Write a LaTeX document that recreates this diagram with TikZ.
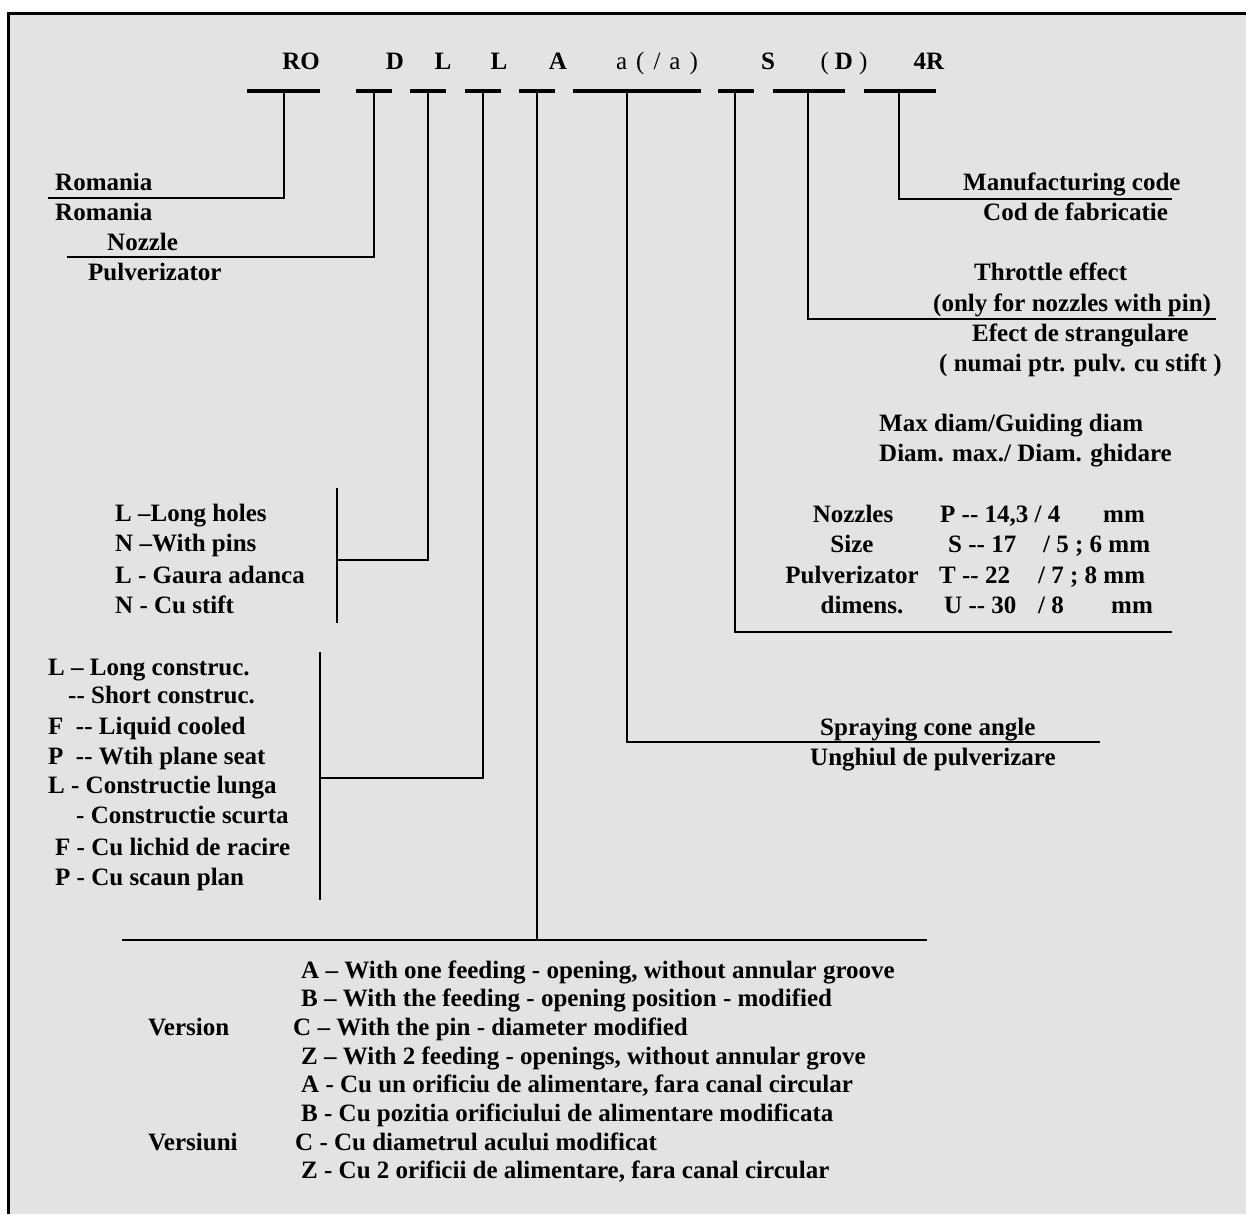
\documentclass[tikz,border=0pt]{standalone}
\usepackage{fontspec}
\setmainfont{Liberation Serif}[Ligatures=TeXOff]
\definecolor{bg}{RGB}{227,227,227}
\begin{document}
\begin{tikzpicture}[x=1pt,y=-1pt,
  lbl/.style={inner sep=0pt,anchor=base west,font=\fontsize{25}{30}\selectfont\bfseries},
  lblc/.style={lbl,anchor=base},
  codereg/.style={lblc,font=\fontsize{25}{30}\selectfont},
  ln/.style={line width=2.4pt},
  barln/.style={line width=3.4pt}]
\useasboundingbox (0,0) rectangle (1246,1214);
\fill[bg] (8,14) rectangle (1246,1214);
\draw[line width=3pt] (8,1214) -- (8,14) -- (1246,14);

% code letters
\node[lblc] (c1) at (301,70) {RO};
\node[lblc] (c2) at (395,70) {D};
\node[lblc] (c3) at (443,70) {L};
\node[lblc] (c4) at (499,70) {L};
\node[lblc] (c5) at (558,70) {A};
\node[codereg] (c6) at (657,70) {a\kern9pt(\kern9pt/\kern9pt a\kern9pt)};
\node[lblc] (c7) at (768,70) {S};
\node[codereg] (c8) at (844,70) {(\kern6pt\textbf{D}\kern6pt)};
\node[lblc] (c9) at (929,70) {4R};

% bars under codes
\foreach \i/\l/\r/\m in {1/247/320/284, 2/356/392/374, 3/410/446/428, 4/465/501/483,
  5/519/555/537, 6/573/701/627, 7/718/754/735, 8/773/845/808, 9/864/936/899}{
  \coordinate (bl\i) at (\l,91);
  \coordinate (br\i) at (\r,91);
  \coordinate (bm\i) at (\m,91);
  \draw[barln] (bl\i) -- (br\i);
}

% ends of connectors
\coordinate (e1) at (48,198);
\coordinate (e2) at (67,257);
\coordinate (e3) at (337,560);
\coordinate (e4) at (320,778);
\coordinate (e5) at (537,940);
\coordinate (e6) at (1100,742);
\coordinate (e7) at (1172,632);
\coordinate (e8) at (1216,319);
\coordinate (e9) at (1172,199);
\coordinate (t3a) at (337,488);
\coordinate (t3b) at (337,623);
\coordinate (t4a) at (320,652);
\coordinate (t4b) at (320,900);
\coordinate (t5a) at (122,940);
\coordinate (t5b) at (927,940);

\draw[ln] (bm1) |- (e1);
\draw[ln] (bm2) |- (e2);
\draw[ln] (bm3) |- (e3);
\draw[ln] (t3a) -- (t3b);
\draw[ln] (bm4) |- (e4);
\draw[ln] (t4a) -- (t4b);
\draw[ln] (bm5) -- (e5);
\draw[ln] (t5a) -- (t5b);
\draw[ln] (bm6) |- (e6);
\draw[ln] (bm7) |- (e7);
\draw[ln] (bm8) |- (e8);
\draw[ln] (bm9) |- (e9);

% left top texts
\node[lbl] (r1) at (55,191) {Romania};
\node[lbl] (r2) at (55,221) {Romania};
\node[lbl] (r3) at (107,251) {Nozzle};
\node[lbl] (r4) at (88,281) {Pulverizator};

% right top texts
\node[lbl] (m1) at (963,191) {Manufacturing code};
\node[lbl] (m2) at (983,221) {Cod de fabricatie};
\node[lbl] (th1) at (974,281) {Throttle effect};
\node[lbl] (th2) at (933,311) {(only for nozzles with pin)};
\node[lbl] (th3) at (972,341) {Efect de strangulare};
\node[lbl] (th4) at (939,371) {( numai ptr. pulv. cu stift )};

% diameters
\node[lbl] (d1) at (879,431) {Max diam/Guiding diam};
\node[lbl] (d2) at (879,461) {Diam. max./ Diam. ghidare};
\node[lblc] (n1) at (853,522) {Nozzles};
\node[lblc] (n2) at (852,552) {Size};
\node[lblc] (n3) at (852,583) {Pulverizator};
\node[lblc] (n4) at (862,613) {dimens.};
\node[lbl] (p1) at (940,522) {P -- 14,3 / 4};
\node[lbl] (p1u) at (1103,522) {mm};
\node[lbl] (p2) at (948,552) {S -- 17};
\node[lbl] (p2b) at (1043,552) {/ 5 ; 6 mm};
\node[lbl] (p3) at (939,583) {T -- 22};
\node[lbl] (p3b) at (1038,583) {/ 7 ; 8 mm};
\node[lbl] (p4) at (944,613) {U -- 30};
\node[lbl] (p4b) at (1038,613) {/ 8};
\node[lbl] (p4u) at (1111,613) {mm};

% holes
\node[lbl] (h1) at (115,521) {L –Long holes};
\node[lbl] (h2) at (115,551) {N –With pins};
\node[lbl] (h3) at (115,583) {L - Gaura adanca};
\node[lbl] (h4) at (115,613) {N - Cu stift};

% construction
\node[lbl] (k1) at (48,675) {L – Long construc.};
\node[lbl] (k2) at (68,703) {-- Short construc.};
\node[lbl] (k3) at (48,734) {F\ \ -- Liquid cooled};
\node[lbl] (k4) at (48,764) {P\ \ -- Wtih plane seat};
\node[lbl] (k5) at (48,793) {L - Constructie lunga};
\node[lbl] (k6) at (76,823) {- Constructie scurta};
\node[lbl] (k7) at (55,855) {F - Cu lichid de racire};
\node[lbl] (k8) at (55,885) {P - Cu scaun plan};

% spraying
\node[lbl] (s1) at (820,735) {Spraying cone angle};
\node[lbl] (s2) at (810,765) {Unghiul de pulverizare};

% version
\node[lbl] (a1) at (301,978) {A – With one feeding - opening, without annular groove};
\node[lbl] (a2) at (301,1006) {B – With the feeding - opening position - modified};
\node[lbl] (ver) at (148,1035) {Version};
\node[lbl] (a3) at (293,1035) {C – With the pin - diameter modified};
\node[lbl] (a4) at (301,1064) {Z – With 2 feeding - openings, without annular grove};
\node[lbl] (a5) at (301,1092) {A - Cu un orificiu de alimentare, fara canal circular};
\node[lbl] (a6) at (301,1121) {B - Cu pozitia orificiului de alimentare modificata};
\node[lbl] (vers) at (148,1150) {Versiuni};
\node[lbl] (a7) at (295,1150) {C - Cu diametrul acului modificat};
\node[lbl] (a8) at (301,1178) {Z - Cu 2 orificii de alimentare, fara canal circular};
\end{tikzpicture}
\end{document}
